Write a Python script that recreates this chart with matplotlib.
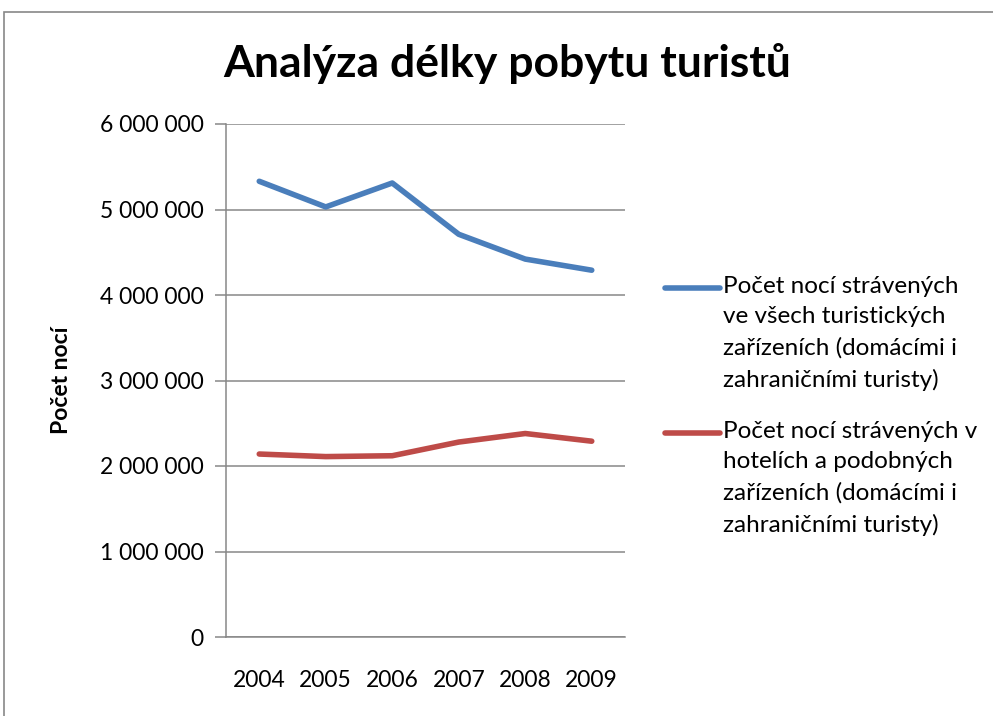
import matplotlib.pyplot as plt
from matplotlib.lines import Line2D
from matplotlib.patches import Rectangle
from matplotlib.ticker import FuncFormatter

plt.rcParams['font.family'] = ['Lato', 'DejaVu Sans']

years = ['2004', '2005', '2006', '2007', '2008', '2009']
vsechna_zarizeni = [5330000, 5030000, 5310000, 4710000, 4420000, 4290000]
hotely = [2140000, 2110000, 2120000, 2280000, 2380000, 2290000]
labels = ['Počet nocí strávených\nve všech turistických\nzařízeních (domácími i\nzahraničními turisty)',
          'Počet nocí strávených v\nhotelích a podobných\nzařízeních (domácími i\nzahraničními turisty)']
colors = ['#4A7EBB', '#BE4B48']

W, H = 993, 716
fig = plt.figure(figsize=(W / 100, H / 100), dpi=100)
ax = fig.add_axes([226 / W, 1 - 637 / H, 399 / W, 513 / H])

x = range(len(years))
for vals, c in zip([vsechna_zarizeni, hotely], colors):
    ax.plot(x, vals, color=c, lw=4, solid_capstyle='round', solid_joinstyle='round')

ax.set_xlim(-0.5, len(years) - 0.5)
ax.set_ylim(0, 6000000)
ax.set_yticks(range(0, 6000001, 1000000))
ax.yaxis.set_major_formatter(FuncFormatter(lambda v, p: f'{int(v):,}'.replace(',', ' ')))
ax.set_xticks(list(x))
ax.set_xticklabels(years)
ax.grid(axis='y', color='#878787', lw=1.1)
ax.set_axisbelow(True)
for s in ['top', 'right']:
    ax.spines[s].set_visible(False)
ax.spines['left'].set_color('#878787')
ax.spines['bottom'].set_color('#878787')
ax.spines['left'].set_linewidth(1.1)
ax.spines['bottom'].set_linewidth(1.1)
ax.tick_params(axis='y', length=8, color='#878787', width=1.1, labelsize=16.5, pad=8)
ax.tick_params(axis='x', length=0, labelsize=16.5, pad=24)

ax.set_ylabel('Počet nocí', fontsize=16.5, fontweight='bold', labelpad=20)

fig.text(507 / W, 1 - 63 / H, 'Analýza délky pobytu turistů', fontsize=32,
         fontweight='bold', ha='center', va='center')

# legenda (handle zarovnany s prvnim radkem jako v Excelu)
for lab, c, y in zip(labels, colors, [288, 433]):
    fig.add_artist(Line2D([665 / W, 720 / W], [1 - y / H, 1 - y / H], color=c, lw=4,
                          solid_capstyle='round', transform=fig.transFigure))
    fig.text(723 / W, 1 - (y - 12) / H, lab, fontsize=17.5, va='top', ha='left',
             linespacing=1.55)

fig.add_artist(Rectangle((4 / W, -0.1), 1.2, 1 - 12 / H + 0.1, fill=False,
                         ec='#878787', lw=1.2, transform=fig.transFigure))

fig.savefig('out.png', dpi=100)
